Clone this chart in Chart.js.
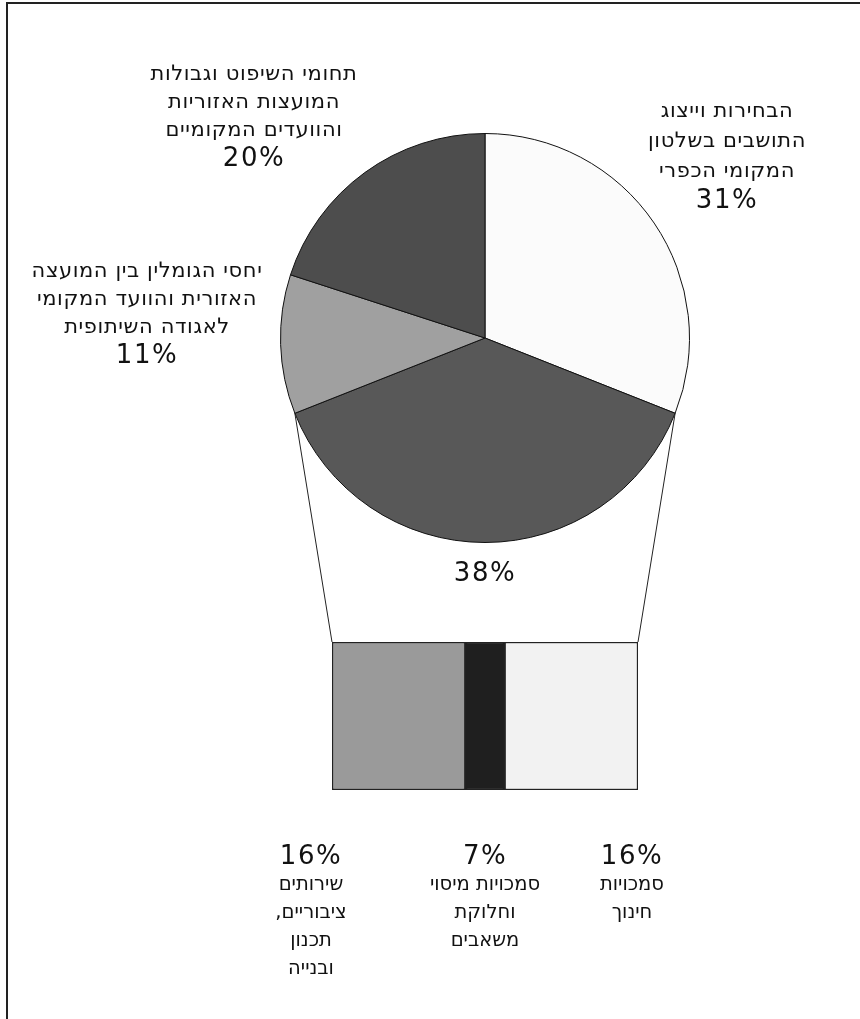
<!DOCTYPE html>
<html lang="he">
<head>
<meta charset="utf-8">
<script src="https://cdn.jsdelivr.net/npm/chart.js@4"></script>
<style>
    html, body { margin: 0; padding: 0; background: #fff; overflow: hidden; }
    #page { position: relative; width: 860px; height: 1019px; overflow: hidden; }
    #frame { position: absolute; left: 6px; top: 2px; width: 900px; height: 1100px;
             border-left: 2px solid #222; border-top: 2px solid #222; }
    canvas { position: absolute; }
    .lbl { position: absolute; transform: translateX(-50%); white-space: nowrap;
           text-align: center; direction: rtl; color: #111;
           font-family: "DejaVu Sans", sans-serif; font-size: 21px; line-height: 28px; letter-spacing: 0.6px; }
    .lbl.small { font-size: 19.5px; letter-spacing: 0; }
    .lbl .pct { font-family: "DejaVu Sans", Verdana, sans-serif; font-size: 26px; letter-spacing: 1.5px; line-height: 29px; }
</style>
</head>
<body>
<div id="page">
    <div id="frame"></div>
    <canvas id="pieChart" width="410" height="410" style="left:280px; top:133px;"></canvas>
    <canvas id="barChart" width="310" height="152" style="left:330px; top:640px;"></canvas>
    <canvas id="links" width="860" height="1019" style="left:0; top:0; pointer-events:none;"></canvas>
</div>
<script>
// pie slices, clockwise from 12 o'clock
const pieLabels = [
    ['הבחירות וייצוג', 'התושבים בשלטון', 'המקומי הכפרי'],
    [],
    ['יחסי הגומלין בין המועצה', 'האזורית והוועד המקומי', 'לאגודה השיתופית'],
    ['תחומי השיפוט וגבולות', 'המועצות האזוריות', 'והוועדים המקומיים']
];
const pieValues = [31, 38, 11, 20];
const pieColors = ['#fbfbfb', '#585858', '#a0a0a0', '#4d4d4d'];

// the 38% slice broken down in the bar (left to right)
const barLabels = [
    ['שירותים', 'ציבוריים,', 'תכנון', 'ובנייה'],
    ['סמכויות מיסוי', 'וחלוקת', 'משאבים'],
    ['סמכויות', 'חינוך']
];
const barPercents = [16, 7, 16];          // printed labels
const barValues = [16.6, 4.9, 16.6];      // segment widths as drawn
const barColors = ['#9a9a9a', '#1f1f1f', '#f2f2f2'];

const pieChart = new Chart(document.getElementById('pieChart'), {
    type: 'pie',
    data: {
        labels: pieLabels.map(l => l.join(' ')),
        datasets: [{
            data: pieValues,
            backgroundColor: pieColors,
            borderColor: '#111',
            borderWidth: 1
        }]
    },
    options: {
        responsive: false,
        animation: false,
        layout: { padding: 0 },
        plugins: { legend: { display: false }, tooltip: { enabled: false } }
    }
});

const barTotal = barValues.reduce((a, b) => a + b, 0);
const barChart = new Chart(document.getElementById('barChart'), {
    type: 'bar',
    data: {
        labels: [''],
        datasets: barValues.map((v, i) => ({
            data: [v],
            backgroundColor: barColors[i],
            borderColor: '#222',
            borderWidth: 1.5,
            borderSkipped: false,
            barPercentage: 1,
            categoryPercentage: 1
        }))
    },
    options: {
        indexAxis: 'y',
        responsive: false,
        animation: false,
        layout: { padding: 2 },
        scales: {
            x: { stacked: true, display: false, min: 0, max: barTotal },
            y: { stacked: true, display: false }
        },
        plugins: { legend: { display: false }, tooltip: { enabled: false } }
    }
});

// connector lines from the edges of the exploded slice to the bar corners
function drawLinks() {
    const ctx = document.getElementById('links').getContext('2d');
    const pieBox = pieChart.canvas.getBoundingClientRect();
    const barBox = barChart.canvas.getBoundingClientRect();
    const pageBox = document.getElementById('page').getBoundingClientRect();
    const arc = pieChart.getDatasetMeta(0).data[1];
    const cx = pieBox.left - pageBox.left + arc.x;
    const cy = pieBox.top - pageBox.top + arc.y;
    const r = arc.outerRadius;
    const xs = barChart.scales.x;
    const top = barBox.top - pageBox.top + barChart.chartArea.top;
    const left = barBox.left - pageBox.left + xs.getPixelForValue(0);
    const right = barBox.left - pageBox.left + xs.getPixelForValue(barTotal);

    ctx.strokeStyle = '#222';
    ctx.lineWidth = 1;
    ctx.beginPath();
    ctx.moveTo(cx + r * Math.cos(arc.startAngle), cy + r * Math.sin(arc.startAngle));
    ctx.lineTo(right, top);
    ctx.moveTo(cx + r * Math.cos(arc.endAngle), cy + r * Math.sin(arc.endAngle));
    ctx.lineTo(left, top);
    ctx.stroke();
}
drawLinks();

// text labels
function addLabel(x, y, lines, pct, pctFirst, cls, lh) {
    const div = document.createElement('div');
    div.className = 'lbl' + (cls ? ' ' + cls : '');
    div.style.left = x + 'px';
    div.style.top = y + 'px';
    if (lh) div.style.lineHeight = lh + 'px';
    const parts = lines.map(t => '<div>' + t + '</div>');
    const p = '<div class="pct" dir="ltr">' + pct + '%</div>';
    if (pctFirst) parts.unshift(p); else parts.push(p);
    div.innerHTML = parts.join('');
    document.getElementById('page').appendChild(div);
}

addLabel(727, 95, pieLabels[0], pieValues[0], false, '', 30);
addLabel(485, 558, pieLabels[1], pieValues[1], false);
addLabel(147, 256, pieLabels[2], pieValues[2], false);
addLabel(254, 59, pieLabels[3], pieValues[3], false);

addLabel(311, 841, barLabels[0], barPercents[0], true, 'small');
addLabel(485, 841, barLabels[1], barPercents[1], true, 'small');
addLabel(632, 841, barLabels[2], barPercents[2], true, 'small');
</script>
</body>
</html>
